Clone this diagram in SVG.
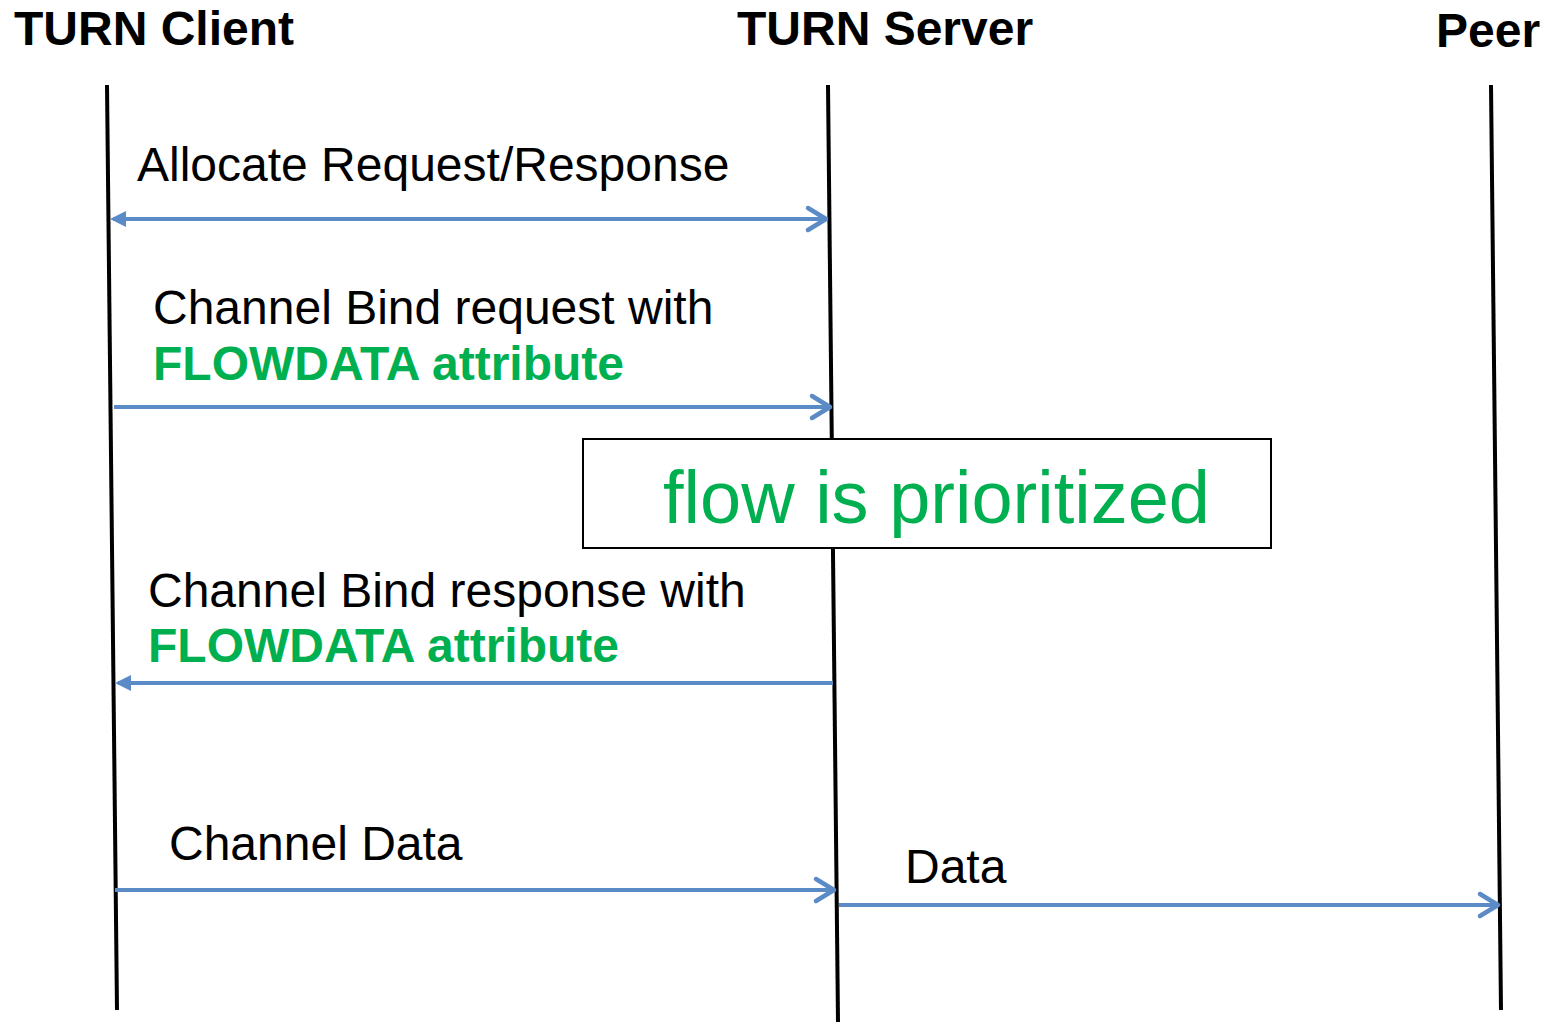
<svg xmlns="http://www.w3.org/2000/svg" width="1548" height="1024" viewBox="0 0 1548 1024">
  <style>
    .title { font-family: "Liberation Sans", Arial, sans-serif; font-size: 48px; font-weight: bold; fill: #000; }
    .label { font-family: "Liberation Sans", Arial, sans-serif; font-size: 48px; fill: #000; }
    .attr { font-family: "Liberation Sans", Arial, sans-serif; font-size: 48px; font-weight: bold; fill: #00B050; }
    .lifeline { stroke: #000; stroke-width: 4; fill: none; }
    .msg { stroke: #5B8BC7; stroke-width: 4; fill: none; }
    .note { fill: #fff; stroke: #000; stroke-width: 2; }
    .note-text { font-family: "Liberation Sans", Arial, sans-serif; font-size: 74px; fill: #00B050; }
  </style>
  <defs>
    <marker id="open" markerUnits="userSpaceOnUse" viewBox="-24 -16 28 32" markerWidth="28" markerHeight="32" refX="0" refY="0" orient="auto" overflow="visible">
      <path d="M -18 -11 L 0 0 L -18 11" fill="none" stroke="#5B8BC7" stroke-width="4.5" stroke-linecap="round" stroke-linejoin="round"/>
    </marker>
    <marker id="solid" markerUnits="userSpaceOnUse" viewBox="-16 -10 22 20" markerWidth="22" markerHeight="20" refX="0" refY="0" orient="auto-start-reverse" overflow="visible">
      <path d="M 3 0 L -13 -8 L -13 8 z" fill="#5B8BC7"/>
    </marker>
  </defs>

  <rect width="1548" height="1024" fill="#fff"/>

  <!-- participants -->
  <g id="client">
    <text class="title" x="14" y="45">TURN Client</text>
    <line class="lifeline" x1="107" y1="85" x2="117" y2="1010"/>
  </g>
  <g id="server">
    <text class="title" x="737" y="45">TURN Server</text>
    <line class="lifeline" x1="828" y1="85" x2="838" y2="1022"/>
  </g>
  <g id="peer">
    <text class="title" x="1436" y="47">Peer</text>
    <line class="lifeline" x1="1491" y1="85" x2="1501" y2="1010"/>
  </g>

  <!-- messages -->
  <g id="connectors">
    <line class="msg" x1="113" y1="219" x2="826" y2="219" marker-start="url(#solid)" marker-end="url(#open)"/>
    <line class="msg" x1="114" y1="407" x2="830" y2="407" marker-end="url(#open)"/>
    <line class="msg" x1="833" y1="683" x2="118" y2="683" marker-end="url(#solid)"/>
    <line class="msg" x1="115" y1="890" x2="834" y2="890" marker-end="url(#open)"/>
    <line class="msg" x1="839" y1="905" x2="1498" y2="905" marker-end="url(#open)"/>
  </g>

  <g id="labels">
    <text class="label" x="137" y="181">Allocate Request/Response</text>
    <text class="label" x="153" y="324">Channel Bind request with</text>
    <text class="attr" x="153" y="380">FLOWDATA attribute</text>
    <text class="label" x="148" y="607">Channel Bind response with</text>
    <text class="attr" x="148" y="662">FLOWDATA attribute</text>
    <text class="label" x="169" y="860">Channel Data</text>
    <text class="label" x="905" y="883">Data</text>
  </g>

  <!-- note over the server lifeline -->
  <g id="note">
    <rect class="note" x="583" y="439" width="688" height="109"/>
    <text class="note-text" x="663" y="523">flow is prioritized</text>
  </g>
</svg>
